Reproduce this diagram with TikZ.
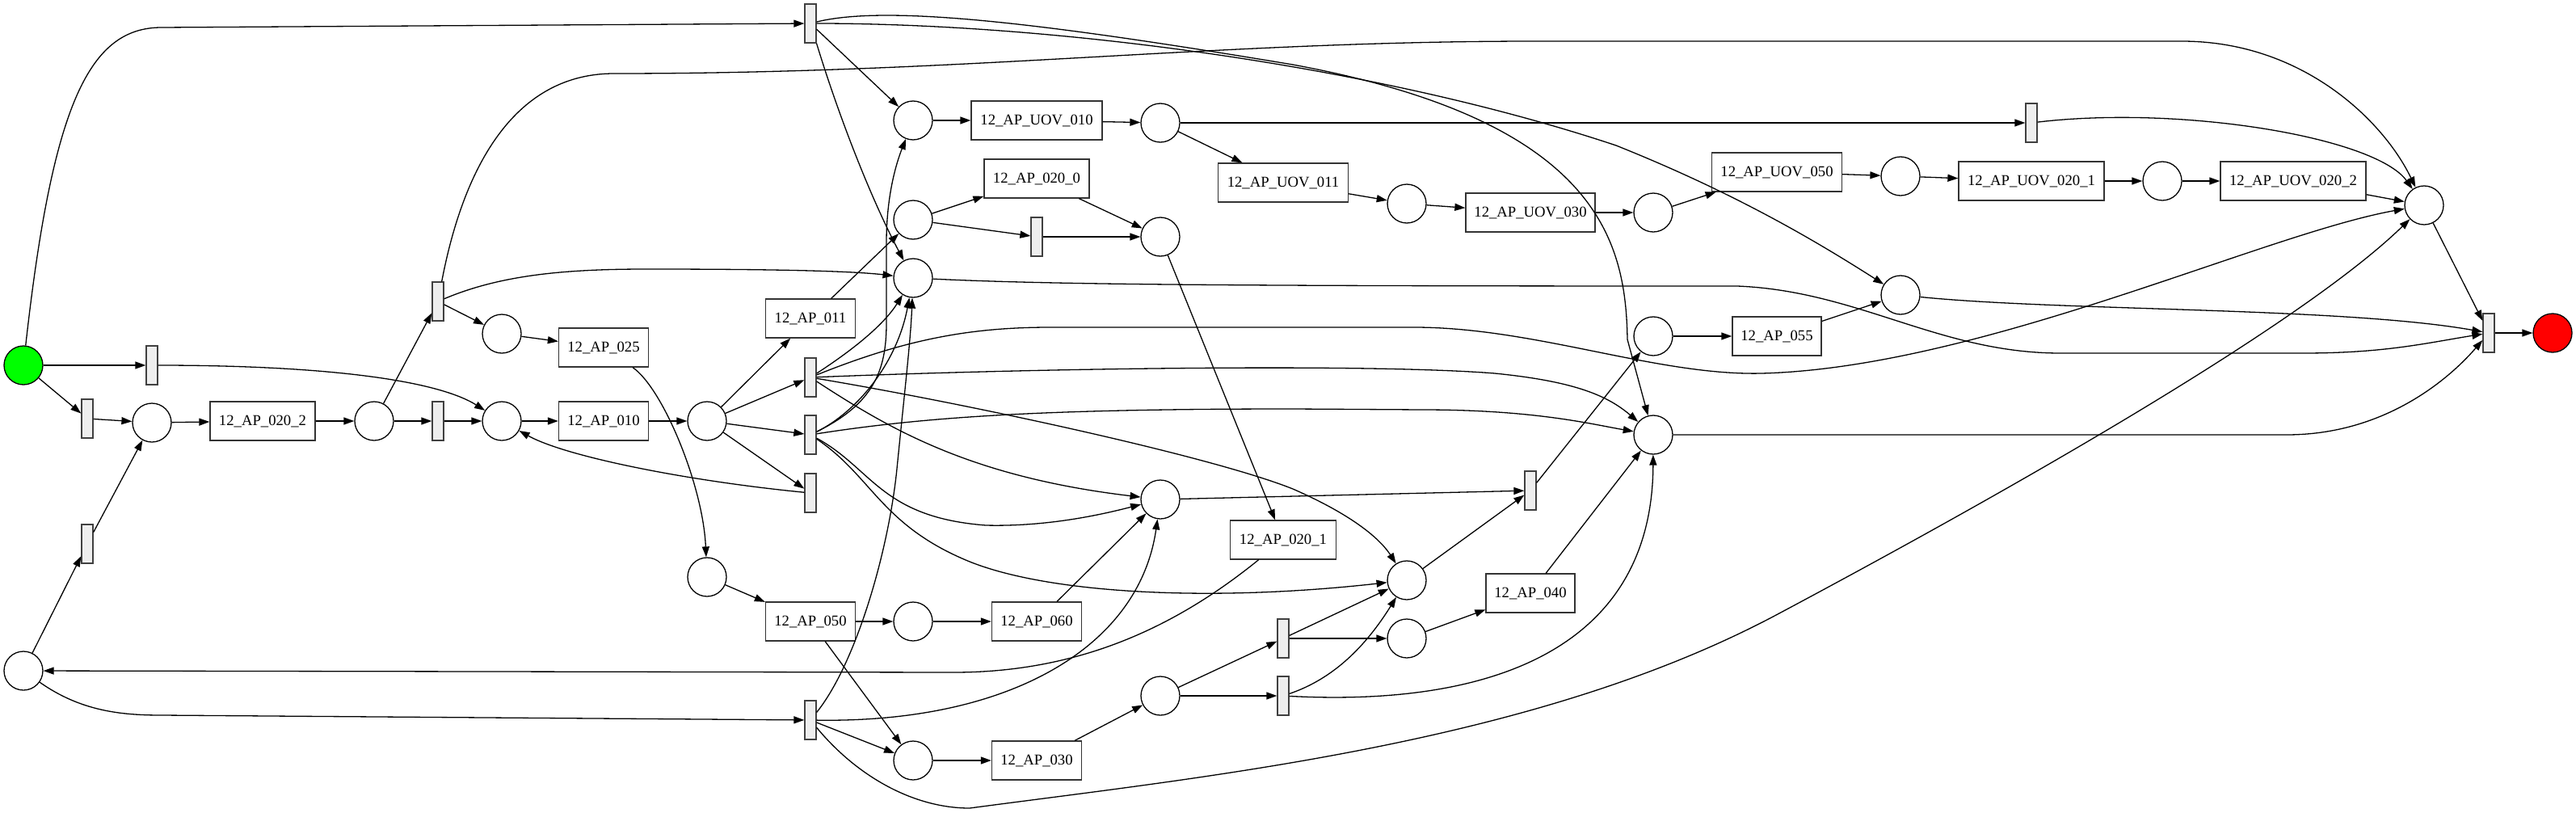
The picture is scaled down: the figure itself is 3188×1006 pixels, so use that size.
\documentclass[tikz,border=0pt]{standalone}
\usepackage{fontspec}
\setmainfont{Liberation Serif}
\usetikzlibrary{arrows.meta}
\definecolor{srcgreen}{RGB}{0,255,0}
\definecolor{snkred}{RGB}{255,0,0}
\definecolor{silfill}{RGB}{238,238,238}
\begin{document}
\begin{tikzpicture}[x=1pt,y=-1pt,
  every node/.style={font=\fontsize{18.7}{22}\selectfont},
  place/.style={circle,draw=black,line width=1.3pt,minimum size=48pt,inner sep=0pt},
  tr/.style={rectangle,draw=black!80,line width=1.3pt,minimum height=48pt,inner sep=0pt},
  sil/.style={rectangle,draw=black!75,fill=silfill,line width=1.3pt,minimum width=14pt,minimum height=48pt,inner sep=0pt},
  arc/.style={line width=1.3pt,-{Triangle[length=13pt,width=9pt]}}
]
\useasboundingbox (0,0) rectangle (3188,1006);
% places
\node[place,fill=srcgreen] (p0) at (29,452) {};
\node[place] (pa) at (188,523) {};
\node[place] (pb) at (463,521) {};
\node[place] (pc) at (621,521) {};
\node[place] (pd) at (621,413) {};
\node[place] (pe) at (875,521) {};
\node[place] (pf) at (875,714) {};
\node[place] (pg) at (1130,149) {};
\node[place] (ph) at (1436,152) {};
\node[place] (pi) at (1130,272) {};
\node[place] (pj) at (1130,344) {};
\node[place] (pk) at (1436,293) {};
\node[place] (pl) at (1741,252) {};
\node[place] (pm) at (2046,263) {};
\node[place] (pn) at (2352,218) {};
\node[place] (po) at (2676,224) {};
\node[place] (pp) at (3000,254) {};
\node[place] (pq) at (2352,365) {};
\node[place] (pr) at (2046,416) {};
\node[place] (ps) at (2046,538) {};
\node[place] (pt) at (1436,618) {};
\node[place] (pu) at (1741,718) {};
\node[place] (pv) at (1741,790) {};
\node[place] (pw) at (1130,769) {};
\node[place] (px) at (1436,861) {};
\node[place] (py) at (1130,941) {};
\node[place] (pz) at (29,830) {};
\node[place,fill=snkred] (pend) at (3159,412) {};
% labelled transitions
\node[tr,minimum width=130pt] (a0202) at (325,521) {12\_AP\_020\_2};
\node[tr,minimum width=111pt] (a025) at (747,430) {12\_AP\_025};
\node[tr,minimum width=111pt] (a010) at (747,521) {12\_AP\_010};
\node[tr,minimum width=111pt] (a011) at (1003,394) {12\_AP\_011};
\node[tr,minimum width=130pt] (a0200) at (1283,221) {12\_AP\_020\_0};
\node[tr,minimum width=162pt] (u010) at (1283,149) {12\_AP\_UOV\_010};
\node[tr,minimum width=161pt] (u011) at (1588,226) {12\_AP\_UOV\_011};
\node[tr,minimum width=160pt] (u030) at (1894,263) {12\_AP\_UOV\_030};
\node[tr,minimum width=161pt] (u050) at (2199,213) {12\_AP\_UOV\_050};
\node[tr,minimum width=180pt] (u0201) at (2514,224) {12\_AP\_UOV\_020\_1};
\node[tr,minimum width=180pt] (u0202) at (2838,224) {12\_AP\_UOV\_020\_2};
\node[tr,minimum width=110pt] (a055) at (2199,416) {12\_AP\_055};
\node[tr,minimum width=131pt] (a0201) at (1588,668) {12\_AP\_020\_1};
\node[tr,minimum width=110pt] (a040) at (1894,734) {12\_AP\_040};
\node[tr,minimum width=111pt] (a050) at (1003,769) {12\_AP\_050};
\node[tr,minimum width=111pt] (a060) at (1283,769) {12\_AP\_060};
\node[tr,minimum width=111pt] (a030) at (1283,941) {12\_AP\_030};
% silent transitions
\node[sil] (t1) at (1003,29) {};
\node[sil] (t2) at (188,452) {};
\node[sil] (t3) at (108,518) {};
\node[sil] (t4) at (108,673) {};
\node[sil] (t5) at (542,373) {};
\node[sil] (t6) at (542,521) {};
\node[sil] (t7) at (1003,467) {};
\node[sil] (t8) at (1003,538) {};
\node[sil] (t9) at (1003,610) {};
\node[sil] (t10) at (1283,293) {};
\node[sil] (t11) at (2514,152) {};
\node[sil] (t12) at (1894,607) {};
\node[sil] (t13) at (1588,790) {};
\node[sil] (t14) at (1588,861) {};
\node[sil] (t15) at (1003,891) {};
\node[sil] (t16) at (3080,412) {};
% arcs
\draw[arc] (p0) .. controls (65,130) and (110,34) .. (200,34) -- (t1);
\draw[arc] (p0) -- (t2);
\draw[arc] (p0) -- (t3);
\draw[arc] (t2) .. controls (400,452) and (540,470) .. (pc);
\draw[arc] (t3) -- (pa);
\draw[arc] (t4) -- (pa);
\draw[arc] (pz) -- (t4);
\draw[arc] (pa) -- (a0202);
\draw[arc] (a0202) -- (pb);
\draw[arc] (pb) -- (t6);
\draw[arc] (t6) -- (pc);
\draw[arc] (pc) -- (a010);
\draw[arc] (a010) -- (pe);
\draw[arc] (pb) -- (t5);
\draw[arc] (t5) -- (pd);
\draw[arc] (pd) -- (a025);
\draw[arc] (t5) .. controls (575,200) and (640,91) .. (760,91) .. controls (1200,91) and (1500,51) .. (1900,51) -- (2700,51) .. controls (2850,51) and (2950,150) .. (pp);
\draw[arc] (t5) .. controls (620,340) and (700,333) .. (800,333) .. controls (950,333) and (1050,335) .. (pj);
\draw[arc] (a025) .. controls (820,480) and (870,600) .. (pf);
\draw[arc] (pe) -- (a011);
\draw[arc] (pe) -- (t7);
\draw[arc] (pe) -- (t8);
\draw[arc] (pe) -- (t9);
\draw[arc] (t9) .. controls (850,595) and (700,565) .. (pc);
\draw[arc] (a011) -- (pi);
\draw[arc] (pi) -- (a0200);
\draw[arc] (pi) -- (t10);
\draw[arc] (a0200) -- (pk);
\draw[arc] (t10) -- (pk);
\draw[arc] (pk) -- (a0201);
\draw[arc] (a0201) .. controls (1450,780) and (1330,832) .. (1180,832) -- (pz);
\draw[arc] (t1) -- (pg);
\draw[arc] (t1) .. controls (1040,150) and (1080,250) .. (pj);
\draw[arc] (t1) .. controls (1300,29) and (1700,80) .. (2000,180) .. controls (2150,240) and (2250,300) .. (pq);
\draw[arc] (t1) .. controls (1100,5) and (1300,30) .. (1600,80) .. controls (1980,150) and (2012,300) .. (2014,420) -- (ps);
\draw[arc] (pg) -- (u010);
\draw[arc] (u010) -- (ph);
\draw[arc] (ph) -- (t11);
\draw[arc] (ph) -- (u011);
\draw[arc] (t11) .. controls (2700,130) and (2940,170) .. (pp);
\draw[arc] (u011) -- (pl);
\draw[arc] (pl) -- (u030);
\draw[arc] (u030) -- (pm);
\draw[arc] (pm) -- (u050);
\draw[arc] (u050) -- (pn);
\draw[arc] (pn) -- (u0201);
\draw[arc] (u0201) -- (po);
\draw[arc] (po) -- (u0202);
\draw[arc] (u0202) -- (pp);
\draw[arc] (pp) -- (t16);
\draw[arc] (t16) -- (pend);
\draw[arc] (pq) .. controls (2550,385) and (2900,380) .. (t16);
\draw[arc] (pj) .. controls (1300,352) and (1500,354) .. (2150,354) .. controls (2300,360) and (2400,437) .. (2550,437) -- (2850,437) .. controls (2950,437) and (3000,425) .. (t16);
\draw[arc] (pr) -- (a055);
\draw[arc] (a055) -- (pq);
\draw[arc] (ps) -- (2830,538) .. controls (2950,538) and (3030,470) .. (t16);
\draw[arc] (t7) .. controls (1060,430) and (1095,400) .. (pj);
\draw[arc] (t7) .. controls (1120,420) and (1200,405) .. (1300,405) -- (1750,405) .. controls (1900,405) and (2050,465) .. (2180,462) .. controls (2450,455) and (2800,290) .. (pp);
\draw[arc] (t7) .. controls (1300,455) and (1700,450) .. (1850,462) .. controls (1950,472) and (1990,490) .. (ps);
\draw[arc] (t7) .. controls (1200,500) and (1500,565) .. (1600,605) .. controls (1680,640) and (1710,670) .. (pu);
\draw[arc] (t7) .. controls (1100,530) and (1200,590) .. (pt);
\draw[arc] (t8) .. controls (1080,500) and (1097,460) .. (1097,400) -- (1097,300) .. controls (1097,240) and (1110,200) .. (pg);
\draw[arc] (t8) .. controls (1060,510) and (1110,450) .. (pj);
\draw[arc] (t8) .. controls (1150,515) and (1300,506) .. (1600,506) -- (1760,507) .. controls (1900,507) and (1970,525) .. (ps);
\draw[arc] (t8) .. controls (1080,580) and (1090,640) .. (1220,650) .. controls (1300,652) and (1370,635) .. (pt);
\draw[arc] (t8) .. controls (1080,590) and (1090,650) .. (1200,695) .. controls (1300,735) and (1500,745) .. (pu);
\draw[arc] (t15) .. controls (1060,820) and (1100,680) .. (1110,580) .. controls (1120,480) and (1127,420) .. (pj);
\draw[arc] (pz) .. controls (100,880) and (150,885) .. (200,885) -- (t15);
\draw[arc] (t15) -- (py);
\draw[arc] (t15) .. controls (1250,895) and (1410,800) .. (pt);
\draw[arc] (t15) .. controls (1060,960) and (1130,1000) .. (1200,1000) .. controls (1500,960) and (1900,920) .. (2200,760) .. controls (2500,600) and (2850,400) .. (pp);
\draw[arc] (pf) -- (a050);
\draw[arc] (a050) -- (pw);
\draw[arc] (a050) -- (py);
\draw[arc] (pw) -- (a060);
\draw[arc] (a060) -- (pt);
\draw[arc] (py) -- (a030);
\draw[arc] (a030) -- (px);
\draw[arc] (px) -- (t13);
\draw[arc] (px) -- (t14);
\draw[arc] (t13) -- (pu);
\draw[arc] (t13) -- (pv);
\draw[arc] (t14) .. controls (1650,840) and (1690,800) .. (pu);
\draw[arc] (t14) .. controls (1850,875) and (2045,800) .. (ps);
\draw[arc] (pv) -- (a040);
\draw[arc] (a040) -- (ps);
\draw[arc] (pu) -- (t12);
\draw[arc] (pt) -- (t12);
\draw[arc] (t12) -- (pr);
\end{tikzpicture}
\end{document}
